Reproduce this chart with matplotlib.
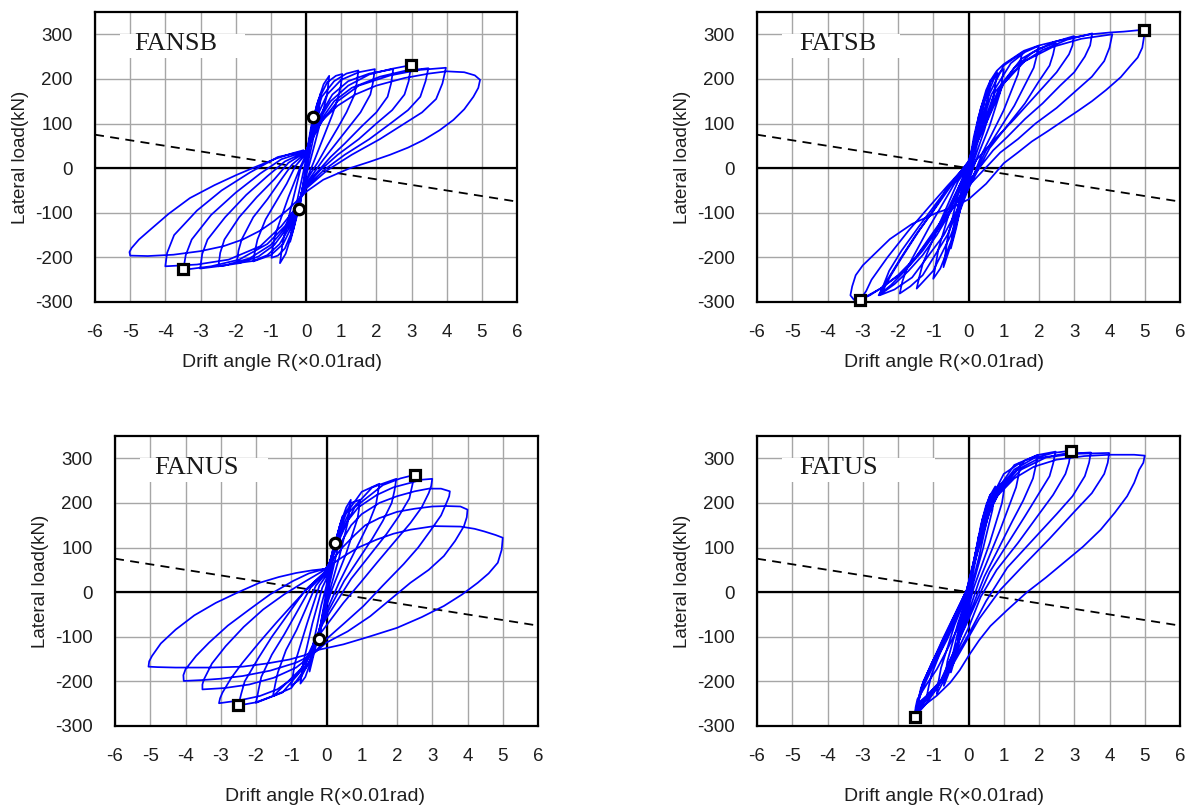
import matplotlib
matplotlib.use('Agg')
import matplotlib.pyplot as plt
from matplotlib.patches import Rectangle

# ---------------- data (R in 0.01 rad, P in kN) ----------------
x_ticks = [-6, -5, -4, -3, -2, -1, 0, 1, 2, 3, 4, 5, 6]
y_ticks = [-300, -200, -100, 0, 100, 200, 300]
ref_R = [-6, 6]
ref_P = [75, -75]

fansb_pts = [
    (0, 0),
    (0.1, 55), (0.21, 114), (0.14, 70), (0.03, 10), (-0.08, -40), (-0.19, -92), (-0.12, -55), (-0.02, -5),
    (0.1, 50), (0.25, 110), (0.42, 168), (0.36, 125), (0.15, 45), (-0.05, -25), (-0.25, -105), (-0.45, -165),
    (-0.38, -120), (-0.15, -35), (-0.02, 12),
    (0.12, 75), (0.3, 140), (0.5, 188), (0.66, 207), (0.6, 165), (0.35, 85), (0.1, 10), (-0.1, -45),
    (-0.35, -135), (-0.58, -192), (-0.74, -213), (-0.66, -165), (-0.4, -80), (-0.15, 0), (0, 25),
    (0.15, 95), (0.35, 152), (0.6, 192), (0.85, 207), (1.03, 211), (0.99, 185), (0.92, 160), (0.75, 120),
    (0.55, 80), (0.35, 40), (0.2, 10), (-0.1, -48), (-0.4, -142), (-0.6, -180), (-0.8, -196), (-0.98, -201),
    (-0.95, -180), (-0.88, -150), (-0.7, -110), (-0.5, -65), (-0.3, -25), (-0.15, 5), (0, 30),
    (0.2, 100), (0.45, 160), (0.8, 195), (1.15, 212), (1.49, 219), (1.44, 190), (1.38, 165), (1.15, 125),
    (0.9, 90), (0.6, 50), (0.35, 15), (-0.05, -35), (-0.4, -130), (-0.65, -170), (-1.0, -195), (-1.5, -209),
    (-1.45, -185), (-1.38, -160), (-1.15, -115), (-0.85, -75), (-0.55, -35), (-0.3, 5), (0, 32),
    (0.25, 105), (0.6, 165), (1.0, 198), (1.5, 215), (1.96, 222), (1.9, 190), (1.83, 165), (1.55, 125),
    (1.2, 90), (0.8, 50), (0.5, 20), (0, -35), (-0.45, -130), (-0.75, -170), (-1.1, -195), (-1.5, -208),
    (-1.97, -213), (-1.92, -185), (-1.83, -160), (-1.5, -110), (-1.1, -70), (-0.7, -25), (-0.4, 8), (0, 34),
    (0.3, 105), (0.75, 165), (1.2, 195), (1.8, 212), (2.48, 222), (2.42, 190), (2.32, 160), (2.0, 125),
    (1.6, 95), (1.1, 55), (0.7, 25), (0, -37), (-0.5, -130), (-0.9, -172), (-1.35, -198), (-1.9, -213),
    (-2.49, -220), (-2.44, -190), (-2.32, -160), (-1.9, -110), (-1.4, -65), (-0.9, -25), (-0.5, 12), (0, 36),
    (0.35, 105), (0.7, 150), (1.2, 185), (1.8, 210), (2.4, 222), (2.99, 231), (2.92, 195), (2.8, 165),
    (2.45, 130), (2.0, 100), (1.5, 65), (0.9, 30), (0.4, -5), (0, -40), (-0.3, -90), (-0.55, -130),
    (-1.0, -172), (-1.6, -202), (-2.3, -218), (-3.01, -225), (-2.95, -192), (-2.8, -160), (-2.3, -110),
    (-1.7, -60), (-1.1, -18), (-0.6, 15), (0, 37),
    (0.4, 105), (0.8, 150), (1.3, 180), (2.1, 205), (2.8, 218), (3.48, 224), (3.4, 195), (3.25, 160),
    (2.9, 130), (2.4, 100), (1.8, 65), (1.1, 30), (0.5, -5), (0, -43), (-0.3, -90), (-0.6, -130),
    (-1.1, -170), (-1.9, -205), (-2.7, -220), (-3.49, -228), (-3.42, -195), (-3.25, -160), (-2.7, -105),
    (-2.0, -55), (-1.3, -12), (-0.7, 20), (0, 38),
    (0.45, 105), (0.9, 150), (1.5, 185), (2.4, 208), (3.2, 220), (3.98, 225), (3.88, 190), (3.7, 155),
    (3.3, 125), (2.8, 100), (2.1, 65), (1.3, 30), (0.6, -5), (0, -46), (-0.35, -95), (-0.7, -130),
    (-1.3, -175), (-2.2, -205), (-3.1, -216), (-4.0, -220), (-3.95, -190), (-3.75, -150), (-3.1, -95),
    (-2.4, -50), (-1.6, -10), (-0.8, 25), (0, 39),
    (0.2, 75), (0.5, 110), (0.9, 140), (1.4, 165), (2.0, 185), (2.8, 202), (3.5, 212), (4.0, 217),
    (4.5, 215), (4.8, 208), (4.95, 198), (4.9, 180), (4.76, 160), (4.5, 132), (4.19, 108), (3.8, 85),
    (3.34, 63), (2.9, 46), (2.39, 30), (1.8, 14), (1.25, 0), (0.49, -26), (0.02, -52), (-0.5, -92),
    (-0.9, -118), (-1.3, -140), (-1.8, -160), (-2.35, -175), (-3.0, -186), (-3.77, -194), (-4.5, -197),
    (-5.0, -196), (-5.02, -188), (-4.96, -179), (-4.75, -160), (-4.43, -138), (-3.9, -102), (-3.3, -67),
    (-2.6, -38), (-1.97, -15), (-1.4, 4), (-0.83, 22), (-0.4, 33), (-0.08, 40),
]
fansb_sq_R = [2.99, -3.5]
fansb_sq_P = [231, -226]
fansb_ci_R = [0.21, -0.19]
fansb_ci_P = [114, -92]

fatsb_pts = [
    (0, 0),
    (0.15, 70), (0.3, 120), (0.25, 80), (0.05, 5), (-0.1, -40), (-0.3, -110), (-0.25, -75), (-0.05, -10),
    (0.1, 40), (0.3, 120), (0.5, 175), (0.62, 196), (0.55, 150), (0.3, 70), (0.05, -5), (-0.15, -60),
    (-0.35, -135), (-0.5, -180), (-0.42, -130), (-0.2, -50), (0, 0),
    (0.15, 55), (0.35, 135), (0.6, 190), (0.81, 215), (0.72, 165), (0.45, 85), (0.1, 5), (-0.15, -65),
    (-0.45, -160), (-0.71, -222), (-0.6, -160), (-0.3, -60), (0, 0),
    (0.2, 65), (0.45, 150), (0.75, 205), (1.0, 222), (0.9, 170), (0.6, 95), (0.2, 15), (-0.1, -55),
    (-0.5, -165), (-0.8, -225), (-1.0, -248), (-0.85, -180), (-0.45, -75), (-0.05, 0),
    (0.25, 75), (0.55, 160), (1.0, 230), (1.52, 259), (1.45, 230), (1.4, 210), (1.0, 130), (0.4, 35), (0, -45),
    (-0.5, -150), (-1.0, -230), (-1.47, -270), (-1.4, -245), (-1.3, -215), (-0.8, -120), (-0.3, -30), (0, 5),
    (0.3, 80), (0.65, 165), (1.2, 235), (1.6, 260), (1.99, 274), (1.93, 250), (1.85, 225), (1.3, 140),
    (0.5, 40), (0, -40), (-0.6, -150), (-1.3, -240), (-1.65, -265), (-1.95, -281), (-1.88, -255),
    (-1.75, -225), (-1.1, -130), (-0.4, -35), (0, 8),
    (0.35, 85), (0.75, 170), (1.5, 245), (2.0, 268), (2.47, 281), (2.4, 255), (2.3, 230), (2.0, 195),
    (1.6, 145), (0.6, 45), (0, -45), (-0.7, -150), (-1.6, -245), (-2.1, -272), (-2.52, -285), (-2.4, -260),
    (-2.25, -230), (-1.9, -185), (-1.4, -130), (-0.5, -35), (0, 10),
    (0.2, 50), (0.4, 95), (0.85, 175), (1.3, 225), (1.8, 258), (2.4, 282), (2.99, 296), (2.95, 275),
    (2.85, 255), (2.5, 215), (2.1, 180), (1.76, 150), (1.3, 110), (0.81, 70), (0.24, 20), (-0.05, -15),
    (-0.4, -75), (-0.8, -130), (-1.3, -185), (-1.8, -230), (-2.5, -270), (-3.07, -295), (-2.9, -275),
    (-2.75, -250), (-2.3, -200), (-1.7, -140), (-1.1, -85), (-0.6, -40), (0, 12),
    (0.2, 50), (0.45, 95), (0.95, 185), (1.5, 235), (2.1, 265), (2.8, 288), (3.51, 302), (3.45, 275),
    (3.3, 250), (3.0, 215), (2.6, 185), (2.1, 145), (1.6, 110), (1.1, 70), (0.7, 40), (0, -30),
    (-0.45, -90), (-0.9, -150), (-1.3, -195), (-1.7, -230), (-2.1, -260), (-2.45, -280), (-2.35, -262),
    (-2.2, -240), (-1.85, -195), (-1.4, -140), (-0.9, -85), (-0.5, -40), (0, 15),
    (0.2, 50), (0.5, 100), (1.0, 190), (1.6, 240), (2.4, 272), (3.2, 290), (4.08, 300), (4.0, 270),
    (3.85, 240), (3.5, 205), (3.0, 170), (2.5, 135), (1.9, 100), (1.4, 65), (0.9, 35), (0, -40),
    (-0.45, -90), (-0.9, -140), (-1.35, -185), (-1.8, -230), (-2.2, -262), (-2.55, -285), (-2.45, -270),
    (-2.3, -250), (-1.95, -205), (-1.5, -150), (-1.0, -95), (-0.6, -45), (0, 15),
    (0.2, 70), (0.45, 150), (0.62, 196), (0.8, 218), (1.0, 233), (1.57, 263), (2.0, 275), (2.52, 285),
    (3.0, 293), (3.47, 300), (4.0, 304), (4.4, 306), (4.8, 309), (4.99, 310), (4.98, 295), (4.93, 270),
    (4.8, 248), (4.6, 230), (4.32, 204), (3.9, 175), (3.5, 150), (3.1, 128), (2.7, 107), (2.25, 83),
    (1.8, 60), (1.4, 35), (1.0, 11), (0.5, -35), (0, -70), (-0.45, -88), (-0.9, -100), (-1.6, -125),
    (-2.23, -159), (-2.7, -195), (-3.0, -218), (-3.2, -240), (-3.3, -265), (-3.35, -285), (-3.25, -295),
    (-3.07, -295), (-2.8, -285), (-2.5, -270), (-2.0, -240), (-1.5, -200), (-1.1, -155), (-0.7, -110),
    (-0.2, -30), (0, 0),
]
fatsb_sq_R = [4.99, -3.07]
fatsb_sq_P = [310, -295]

fanus_pts = [
    (0, 0),
    (0.12, 60), (0.24, 110), (0.18, 70), (0.05, 10), (-0.08, -45), (-0.21, -106), (-0.14, -60), (-0.02, -5),
    (0.12, 65), (0.3, 125), (0.45, 170), (0.38, 120), (0.15, 40), (-0.08, -40), (-0.3, -120), (-0.48, -178),
    (-0.4, -125), (-0.15, -30), (0, 15),
    (0.15, 80), (0.38, 150), (0.56, 190), (0.69, 207), (0.6, 155), (0.35, 75), (0.08, 0), (-0.12, -60),
    (-0.4, -145), (-0.6, -190), (-0.74, -205), (-0.65, -155), (-0.4, -70), (-0.12, 10), (0, 30),
    (0.18, 95), (0.42, 160), (0.7, 200), (0.95, 207), (0.92, 185), (0.88, 165), (0.55, 85), (0.15, 5),
    (-0.12, -60), (-0.45, -150), (-0.75, -195), (-1.0, -210), (-0.95, -185), (-0.9, -160), (-0.55, -70),
    (-0.2, 15), (0, 38),
    (0.22, 105), (0.55, 175), (1.0, 225), (1.5, 243), (1.45, 218), (1.4, 195), (1.2, 155), (0.95, 115),
    (0.35, 20), (-0.1, -60), (-0.5, -160), (-1.0, -215), (-1.52, -233), (-1.45, -205), (-1.38, -180),
    (-1.15, -130), (-0.85, -85), (-0.3, 15), (0, 43),
    (0.25, 110), (0.65, 180), (1.3, 235), (1.98, 254), (1.93, 228), (1.85, 200), (1.6, 160), (1.3, 120),
    (0.5, 25), (-0.1, -65), (-0.6, -165), (-1.25, -225), (-2.0, -248), (-1.93, -220), (-1.85, -190),
    (-1.55, -140), (-1.2, -95), (-0.45, 10), (0, 46),
    (0.3, 115), (0.8, 190), (1.6, 240), (2.1, 255), (2.5, 263), (2.43, 238), (2.35, 210), (2.05, 170),
    (1.7, 130), (0.7, 30), (-0.1, -70), (-0.7, -170), (-1.5, -232), (-2.0, -247), (-2.5, -254),
    (-2.42, -228), (-2.32, -200), (-1.95, -150), (-1.55, -100), (-0.6, 5), (0, 48),
    (0.15, 80), (0.35, 115), (0.6, 160), (0.9, 190), (1.43, 218), (1.9, 235), (2.38, 245), (2.7, 252),
    (3.0, 254), (2.97, 238), (2.9, 222), (2.7, 190), (2.38, 155), (1.9, 110), (1.43, 66), (0.95, 20),
    (0.48, -24), (-0.15, -90), (-0.5, -145), (-0.86, -188), (-1.4, -218), (-1.9, -233), (-2.5, -243),
    (-3.05, -249), (-3.02, -238), (-2.95, -225), (-2.7, -192), (-2.38, -158), (-1.9, -112), (-1.43, -69),
    (-0.95, -27), (-0.48, 13), (-0.05, 45),
    (0.2, 85), (0.4, 110), (0.7, 150), (1.0, 175), (1.5, 200), (2.0, 215), (2.5, 226), (2.9, 232),
    (3.25, 232), (3.5, 226), (3.48, 215), (3.43, 205), (3.25, 172), (2.95, 138), (2.6, 100), (2.19, 63),
    (1.6, 15), (1.05, -31), (0.5, -70), (0, -105), (-0.4, -140), (-0.86, -169), (-1.5, -192), (-2.19, -207),
    (-2.9, -215), (-3.52, -218), (-3.52, -207), (-3.48, -196), (-3.25, -160), (-2.86, -121), (-2.35, -78),
    (-1.8, -39), (-1.2, -5), (-0.67, 21), (-0.05, 50),
    (0.2, 75), (0.45, 100), (0.8, 128), (1.1, 150), (1.5, 166), (2.0, 180), (2.5, 187), (3.0, 192),
    (3.4, 193), (3.8, 192), (4.0, 185), (3.98, 168), (3.9, 148), (3.65, 115), (3.33, 81), (2.9, 50),
    (2.38, 21), (1.8, -17), (1.24, -54), (0.6, -88), (0, -113), (-0.4, -140), (-0.86, -158), (-1.6, -176),
    (-2.38, -188), (-3.0, -194), (-3.52, -197), (-4.05, -199), (-4.06, -186), (-4.0, -173), (-3.7, -143),
    (-3.33, -113), (-2.8, -75), (-2.19, -39), (-1.6, -5), (-0.95, 25), (-0.5, 42), (-0.05, 52),
    (0.2, 65), (0.48, 80), (0.9, 100), (1.43, 118), (1.9, 131), (2.38, 140), (3.05, 148), (3.8, 147),
    (4.2, 142), (4.48, 136), (4.8, 128), (5.0, 122), (4.97, 95), (4.86, 66), (4.6, 42), (4.29, 21),
    (3.85, -5), (3.33, -31), (2.7, -56), (2.0, -80), (1.2, -100), (0.48, -117), (-0.21, -129),
    (-0.6, -141), (-1.05, -151), (-1.7, -160), (-2.38, -167), (-3.3, -169), (-4.28, -169), (-4.8, -168),
    (-5.05, -167), (-5.03, -155), (-4.95, -143), (-4.7, -115), (-4.28, -84), (-3.75, -52), (-3.14, -24),
    (-2.5, 0), (-1.9, 21), (-1.35, 34), (-0.86, 43), (-0.4, 49), (-0.05, 52),
]
fanus_sq_R = [2.5, -2.5]
fanus_sq_P = [263, -254]
fanus_ci_R = [0.24, -0.21]
fanus_ci_P = [110, -106]

fatus_pts = [
    (0, 0),
    (0.15, 70), (0.3, 130), (0.22, 80), (0.05, 10), (-0.1, -45), (-0.3, -110), (-0.22, -70), (-0.05, -10),
    (0.15, 65), (0.35, 150), (0.5, 195), (0.62, 219), (0.55, 170), (0.3, 80), (0.05, 0), (-0.15, -70),
    (-0.35, -140), (-0.5, -180), (-0.42, -130), (-0.2, -55), (0, 0),
    (0.2, 85), (0.4, 165), (0.6, 215), (0.76, 237), (0.68, 185), (0.42, 100), (0.1, 10), (-0.15, -75),
    (-0.45, -160), (-0.7, -210), (-0.6, -155), (-0.3, -70), (0, 0),
    (0.22, 95), (0.45, 175), (0.75, 230), (1.04, 252), (1.0, 225), (0.95, 200), (0.6, 110), (0.15, 10),
    (-0.15, -80), (-0.55, -175), (-0.9, -228), (-0.85, -200), (-0.78, -170), (-0.4, -75), (0, 5),
    (0.25, 105), (0.55, 195), (1.0, 265), (1.47, 290), (1.42, 262), (1.35, 235), (0.9, 140), (0.3, 25),
    (-0.1, -70), (-0.65, -185), (-1.2, -240), (-1.13, -212), (-1.05, -185), (-0.55, -85), (-0.05, 5),
    (0.27, 110), (0.65, 210), (1.3, 285), (1.97, 308), (1.9, 280), (1.83, 255), (1.55, 205), (1.25, 160),
    (0.45, 35), (-0.1, -75), (-0.75, -195), (-1.45, -255), (-1.37, -228), (-1.28, -200), (-0.65, -95),
    (-0.05, 5),
    (0.3, 115), (0.75, 220), (1.6, 295), (2.0, 308), (2.47, 315), (2.4, 288), (2.3, 260), (1.95, 215),
    (1.6, 170), (0.6, 45), (-0.05, -70), (-0.8, -200), (-1.5, -265), (-1.4, -235), (-1.3, -205),
    (-0.7, -100), (-0.05, 5),
    (0.15, 60), (0.32, 118), (0.55, 180), (0.8, 225), (1.3, 275), (1.85, 300), (2.4, 312), (2.9, 317),
    (2.85, 290), (2.75, 265), (2.4, 218), (2.0, 175), (1.4, 110), (0.8, 50), (0.35, -10), (0, -80),
    (-0.4, -145), (-0.85, -210), (-1.2, -250), (-1.52, -279), (-1.45, -250), (-1.35, -215), (-1.05, -160),
    (-0.7, -105), (-0.35, -50), (-0.05, 3),
    (0.15, 60), (0.35, 120), (0.6, 180), (0.85, 225), (1.4, 275), (2.0, 300), (2.7, 310), (3.47, 313),
    (3.42, 290), (3.3, 260), (2.95, 215), (2.5, 175), (1.8, 115), (1.1, 55), (0.5, -20), (0, -95),
    (-0.4, -150), (-0.8, -200), (-1.15, -230), (-1.45, -250), (-1.38, -228), (-1.25, -200), (-0.95, -150),
    (-0.6, -100), (-0.3, -45), (-0.05, 2),
    (0.15, 60), (0.38, 122), (0.6, 180), (0.9, 228), (1.5, 275), (2.2, 302), (3.0, 310), (3.99, 312),
    (3.95, 290), (3.85, 265), (3.5, 222), (3.0, 180), (2.3, 120), (1.5, 55), (0.9, 5), (0.3, -60),
    (-0.1, -115), (-0.5, -170), (-1.0, -225), (-1.5, -270), (-1.42, -245), (-1.3, -215), (-1.0, -165),
    (-0.6, -105), (-0.3, -50), (-0.05, 0),
    (0.1, 50), (0.24, 103), (0.45, 165), (0.81, 215), (1.3, 255), (1.85, 281), (2.5, 297), (3.28, 305),
    (4.0, 308), (4.7, 308), (5.0, 306), (4.96, 290), (4.84, 274), (4.7, 245), (4.5, 215), (4.15, 178),
    (3.75, 140), (3.25, 102), (2.7, 66), (2.2, 33), (1.66, 0), (1.1, -40), (0.62, -76), (0.3, -108),
    (0, -143), (-0.25, -175), (-0.52, -203), (-0.9, -232), (-1.28, -255), (-1.52, -274), (-1.5, -258),
    (-1.45, -240), (-1.2, -208), (-0.9, -173), (-0.6, -128), (-0.33, -84), (-0.15, -40), (-0.05, 0),
]
fatus_sq_R = [2.9, -1.52]
fatus_sq_P = [317, -279]

# ---------------- figure ----------------
plt.rcParams['font.family'] = ['Liberation Sans', 'DejaVu Sans']
plt.rcParams['axes.unicode_minus'] = False
fig = plt.figure(figsize=(11.9, 8.05), dpi=100)

W, H = 1190.0, 805.0
boxes = [  # left, top, right, bottom in pixels
    (95, 12, 517, 302),
    (757, 12, 1180, 302),
    (115, 436, 538, 726),
    (757, 436, 1180, 726),
]
panels = [
    ('FANSB', fansb_pts, fansb_sq_R, fansb_sq_P, fansb_ci_R, fansb_ci_P),
    ('FATSB', fatsb_pts, fatsb_sq_R, fatsb_sq_P, [], []),
    ('FANUS', fanus_pts, fanus_sq_R, fanus_sq_P, fanus_ci_R, fanus_ci_P),
    ('FATUS', fatus_pts, fatus_sq_R, fatus_sq_P, [], []),
]
label_box_right = [-1.73, -1.94, -1.66, -0.95]
xlabel_pos = [(0.442, -0.18), (0.443, -0.18), (0.497, -0.215), (0.441, -0.215)]

for (l, t, r, b), (name, pts, sqR, sqP, ciR, ciP), bx_r, xlp in zip(boxes, panels, label_box_right, xlabel_pos):
    ax = fig.add_axes([l / W, 1 - b / H, (r - l) / W, (b - t) / H])
    ax.set_xlim(-6, 6)
    ax.set_ylim(-300, 350)
    ax.set_xticks(x_ticks)
    ax.set_yticks(y_ticks)
    ax.grid(True, color='#a6a6a6', lw=1.0)
    ax.set_axisbelow(True)
    ax.tick_params(length=0, labelsize=13.5, colors='#1e1e1e')
    ax.tick_params(axis='x', pad=16)
    ax.tick_params(axis='y', pad=16)
    for s in ax.spines.values():
        s.set_linewidth(1.6)
        s.set_color('black')
    ax.axhline(0, color='black', lw=1.6, zorder=1.5)
    ax.axvline(0, color='black', lw=1.6, zorder=1.5)
    ax.add_patch(Rectangle((-5.3, 247), bx_r + 5.3, 53, facecolor='white', edgecolor='none', zorder=1.8))
    ax.text(-3.7, 279, name, family='Liberation Serif', fontsize=19, color='#1a1a1a',
            ha='center', va='center', zorder=2)
    ax.plot(ref_R, ref_P, color='black', lw=1.3, dashes=(5, 3.5), zorder=2)
    R = [p[0] for p in pts]
    P = [p[1] for p in pts]
    ax.plot(R, P, color='#0000ff', lw=1.25, zorder=3, solid_joinstyle='round')
    ax.plot(sqR, sqP, 's', ms=7.5, mfc='white', mec='black', mew=2.3, zorder=4, clip_on=False)
    if ciR:
        ax.plot(ciR, ciP, 'o', ms=7.5, mfc='white', mec='black', mew=2.3, zorder=4)
    ax.set_xlabel('Drift angle R(\u00d70.01rad)', fontsize=14, color='#1e1e1e')
    ax.xaxis.set_label_coords(*xlp)
    ax.set_ylabel('Lateral load(kN)', fontsize=13.5, color='#1e1e1e')
    ax.yaxis.set_label_coords(-0.157, 0.5)

fig.savefig('out.png', dpi=100)
